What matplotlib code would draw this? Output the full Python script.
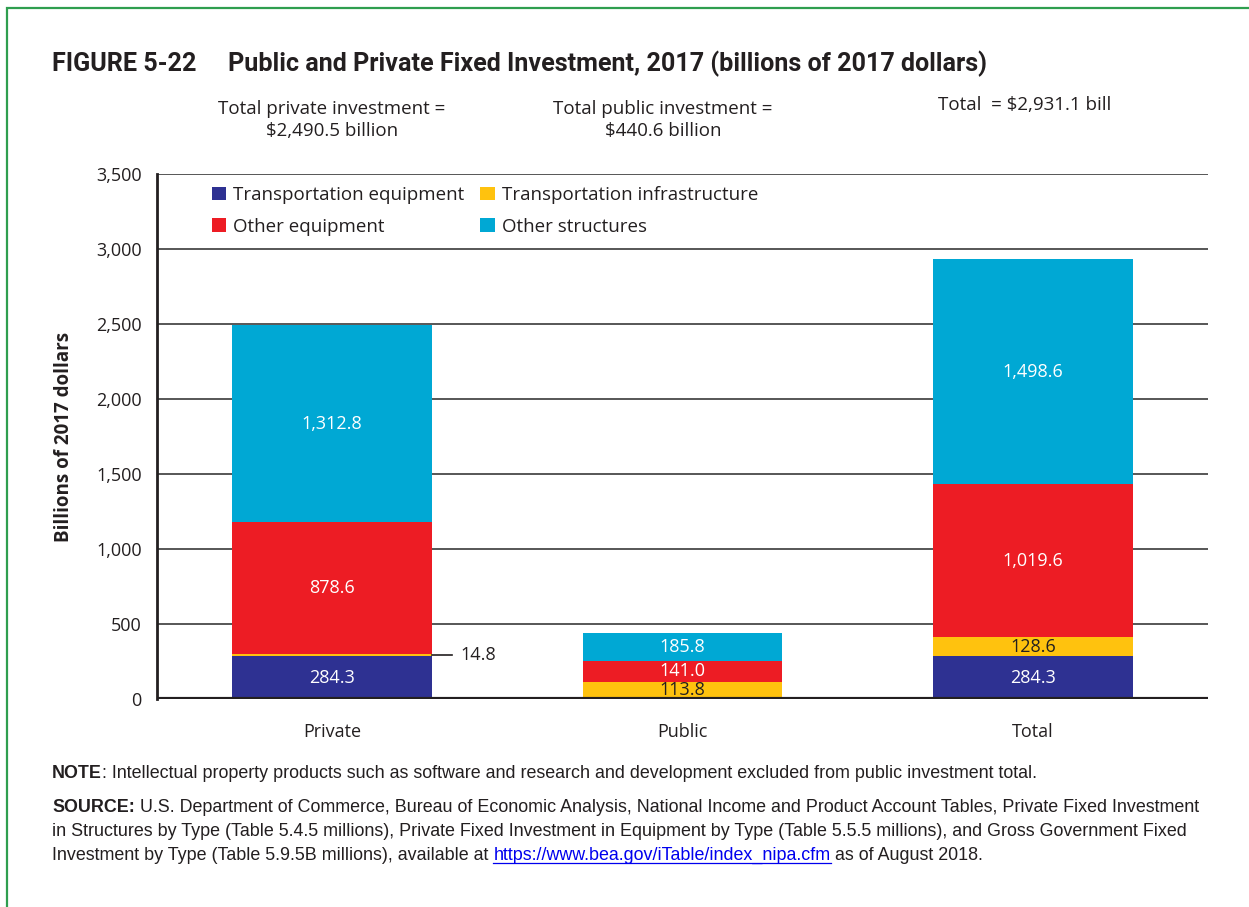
import numpy as np
import matplotlib.pyplot as plt
from matplotlib.patches import Rectangle, Patch
from matplotlib import font_manager

# stacked segments, bottom to top
groups = ["Private", "Public", "Total"]
transp_equip = [284.3, 0.0, 284.3]
transp_infra = [14.8, 113.8, 128.6]
other_equip = [878.6, 141.0, 1019.6]
other_struct = [1312.8, 185.8, 1498.6]

series_names = ["Transportation equipment", "Transportation infrastructure",
                "Other equipment", "Other structures"]
colors = ["#2e3192", "#ffc20e", "#ed1c24", "#00a8d4"]
label_colors = ["white", "#231f20", "white", "white"]

yticks = [0, 500, 1000, 1500, 2000, 2500, 3000, 3500]


def pick(names):
    have = {f.name for f in font_manager.fontManager.ttflist}
    for n in names:
        if n in have:
            return n
    return "DejaVu Sans"


body = pick(["Open Sans", "Lato", "Noto Sans"])
head = pick(["Roboto", "Liberation Sans"])
foot_font = pick(["Liberation Sans Narrow", "Liberation Sans"])
plt.rcParams['font.family'] = [body, 'DejaVu Sans']

W, H = 1249, 907
fig = plt.figure(figsize=(W / 100, H / 100), dpi=100)


def fx(px):
    return px / W


def fy(py):
    return 1 - py / H


# green frame around the figure
fig.patches.append(Rectangle((fx(7), -0.05), 1.2, fy(8) + 0.05, transform=fig.transFigure,
                             fill=False, edgecolor="#2f9e4f", linewidth=1.6))

ax = fig.add_axes([fx(157), fy(699), fx(1208) - fx(157), fy(174) - fy(699)])

x = np.arange(len(groups))
width = 0.57
data = [transp_equip, transp_infra, other_equip, other_struct]
bottom = np.zeros(len(groups))
for vals, c in zip(data, colors):
    ax.bar(x, vals, width, bottom=bottom, color=c, edgecolor="none", zorder=3)
    bottom = bottom + np.array(vals)

# value labels inside segments
bottom = np.zeros(len(groups))
for vals, lc in zip(data, label_colors):
    for i, v in enumerate(vals):
        if v > 50:
            ax.text(x[i], bottom[i] + v / 2, f"{v:,.1f}", ha="center", va="center",
                    color=lc, fontsize=13, zorder=4)
    bottom = bottom + np.array(vals)

# callout for the thin private infrastructure slice
y_inf = transp_equip[0] + transp_infra[0] / 2
ax.plot([x[0] + width / 2, x[0] + width / 2 + 0.057], [y_inf, y_inf], color="#231f20", lw=1.2,
        zorder=4, clip_on=False)
ax.text(x[0] + width / 2 + 0.08, y_inf, f"{transp_infra[0]:.1f}", ha="left", va="center",
        fontsize=13, color="#231f20")

ax.set_xlim(-0.5, 2.5)
ax.set_ylim(0, 3500)
ax.set_yticks(yticks)
ax.set_yticklabels([f"{t:,}" for t in yticks], fontsize=13, color="#231f20")
ax.set_xticks(x)
ax.set_xticklabels(groups, fontsize=13, color="#231f20")
ax.tick_params(axis="y", length=0, pad=11)
ax.tick_params(axis="x", length=0, pad=17)
for t in yticks[1:]:
    ax.axhline(t, color="#3a3a3a", lw=1.2, zorder=1)
ax.axhline(0, color="#231f20", lw=3, zorder=5)
for s in ["top", "right", "bottom"]:
    ax.spines[s].set_visible(False)
ax.spines["left"].set_color("#231f20")
ax.spines["left"].set_linewidth(2)
ax.set_ylabel("Billions of 2017 dollars", fontsize=13.5, fontweight="bold", color="#231f20",
              labelpad=16)

handles = [Patch(facecolor=colors[i], edgecolor="none") for i in [0, 2, 1, 3]]
labels = [series_names[i] for i in [0, 2, 1, 3]]
ax.legend(handles, labels, ncol=2, loc="upper left", bbox_to_anchor=(0.036, 1.009),
          frameon=False, fontsize=13.5, handlelength=0.75, handleheight=0.75,
          handletextpad=0.4, columnspacing=0.85, labelspacing=0.72, labelcolor="#231f20")

# header
fig.text(fx(52), fy(64), "FIGURE 5-22", fontsize=18.1, fontweight="bold", family=[head, 'DejaVu Sans'],
         color="#231f20", va="center")
fig.text(fx(228), fy(64), "Public and Private Fixed Investment, 2017 (billions of 2017 dollars)",
         fontsize=18.1, fontweight="bold", family=[head, 'DejaVu Sans'], color="#231f20", va="center")

fig.text(fx(332), fy(120), "Total private investment =\n$2,490.5 billion", ha="center", va="center",
         fontsize=13.5, color="#231f20", linespacing=1.35)
fig.text(fx(663), fy(120), "Total public investment =\n$440.6 billion", ha="center", va="center",
         fontsize=13.5, color="#231f20", linespacing=1.35)
fig.text(fx(938), fy(105), "Total  = $2,931.1 bill", ha="left", va="center",
         fontsize=13.5, color="#231f20")

# note and source, written as runs of text placed one after another
fig.canvas.draw()
r = fig.canvas.get_renderer()
foot = dict(fontsize=12.9, family=[foot_font, 'DejaVu Sans'], color="#231f20", va="center")


def run(parts, py):
    x0 = fx(52)
    for txt, kw in parts:
        t = fig.text(x0, fy(py), txt, **{**foot, **kw})
        bb = t.get_window_extent(r)
        if kw.get("color") == "#0000ee":
            fig.add_artist(plt.Line2D([bb.x0 / W, bb.x1 / W], [bb.y0 / H + 0.001] * 2,
                                      color="#0000ee", lw=0.9, transform=fig.transFigure))
        x0 = bb.x1 / W


run([("NOTE", {"fontweight": "bold"}),
     (": Intellectual property products such as software and research and development excluded "
      "from public investment total.", {})], 773)
run([("SOURCE:", {"fontweight": "bold"}),
     (" U.S. Department of Commerce, Bureau of Economic Analysis, National Income and Product "
      "Account Tables, Private Fixed Investment", {})], 808)
run([("in Structures by Type (Table 5.4.5 millions), Private Fixed Investment in Equipment by Type "
      "(Table 5.5.5 millions), and Gross Government Fixed", {})], 831)
run([("Investment by Type (Table 5.9.5B millions), available at ", {}),
     ("https://www.bea.gov/iTable/index_nipa.cfm", {"color": "#0000ee"}),
     (" as of August 2018.", {})], 855)

fig.savefig("out.png", dpi=100)
